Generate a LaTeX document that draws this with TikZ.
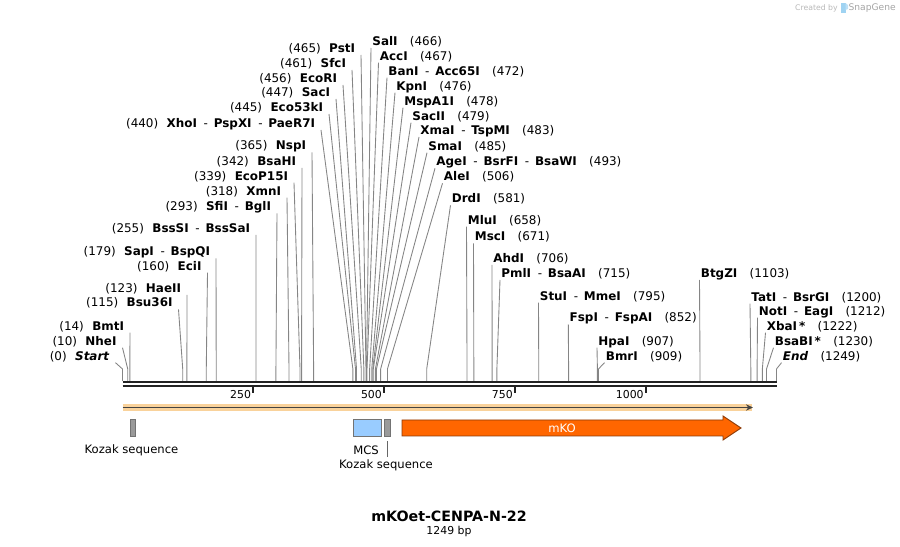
\documentclass[tikz,border=0pt]{standalone}
\usepackage{fontspec}
\setmainfont{DejaVu Sans}
\usetikzlibrary{arrows.meta}
\definecolor{cutgray}{HTML}{858585}
\definecolor{mapdark}{HTML}{222222}
\definecolor{orfpeach}{HTML}{F9D29B}
\definecolor{mkofill}{HTML}{FF6600}
\definecolor{mkodraw}{HTML}{8A3A08}
\definecolor{mcsfill}{HTML}{99CCFF}
\definecolor{kozfill}{HTML}{9A9A9A}
\definecolor{brandgray}{HTML}{B8B8B8}
\definecolor{brandblue}{HTML}{9FD3F2}
\newcommand{\lgap}{\hspace{4.8pt}}
\newcommand{\rgap}{\hspace{7pt}}
\newcommand{\dsep}{\hspace{3.8pt}-\hspace{3.3pt}}
\tikzset{
  enz/.style={font=\fontsize{6.8pt}{8pt}\selectfont, inner ysep=0.3pt, text height=5pt, text depth=1pt},
  enzl/.style={enz, anchor=south east, inner xsep=3.2pt},
  enzr/.style={enz, anchor=south west, inner xsep=0.6pt},
  cutline/.style={draw=cutgray, line width=0.5pt},
  mapline/.style={draw=mapdark, line width=1.5pt},
  tickmark/.style={draw=mapdark, line width=1.1pt},
  ticklbl/.style={font=\fontsize{6.2pt}{7pt}\selectfont, anchor=east, inner sep=1.2pt},
  featbox/.style={draw=black!55, line width=0.5pt, minimum height=0.33cm, inner sep=0pt},
  featlbl/.style={font=\fontsize{6.6pt}{8pt}\selectfont, inner sep=0pt}
}
\begin{document}
\begin{tikzpicture}[x=0.02cm, y=-0.02cm]
\useasboundingbox (0,0) rectangle (900,547);

\foreach \bp/\lx/\ly/\txt [count=\i] in {
  465/361/55/{(465)\lgap\textbf{PstI}},
  461/352/70/{(461)\lgap\textbf{SfcI}},
  456/343/85/{(456)\lgap\textbf{EcoRI}},
  447/336/99/{(447)\lgap\textbf{SacI}},
  445/329/114/{(445)\lgap\textbf{Eco53kI}},
  440/321/130/{(440)\lgap\textbf{XhoI}\dsep\textbf{PspXI}\dsep\textbf{PaeR7I}},
  365/312/152.5/{(365)\lgap\textbf{NspI}},
  342/302/168/{(342)\lgap\textbf{BsaHI}},
  339/294/182.7/{(339)\lgap\textbf{EcoP15I}},
  318/287/197.7/{(318)\lgap\textbf{XmnI}},
  293/277/213.3/{(293)\lgap\textbf{SfiI}\dsep\textbf{BglI}},
  255/256/235/{(255)\lgap\textbf{BssSI}\dsep\textbf{BssSaI}},
  179/216/258.3/{(179)\lgap\textbf{SapI}\dsep\textbf{BspQI}},
  160/207.5/272.7/{(160)\lgap\textbf{EciI}},
  123/187/295/{(123)\lgap\textbf{HaeII}},
  115/178.5/309.3/{(115)\lgap\textbf{Bsu36I}},
  14/130/332.7/{(14)\lgap\textbf{BmtI}},
  10/122.5/347.7/{(10)\lgap\textbf{NheI}},
  0/115.5/362.7/{(0)\lgap\textbf{\textit{Start}}}}
{
  \node[enzl] (el\i) at (\lx,\ly) {\txt};
  \coordinate (sl\i) at ({122.5+0.5236*\bp},369);
  \coordinate (ml\i) at ({122.5+0.5236*\bp},381);
  \draw[cutline] (el\i.south east) -- (sl\i) -- (ml\i);
}

\foreach \bp/\lx/\ly/\txt [count=\i] in {
  466/371/48/{\textbf{SalI}\rgap(466)},
  467/378.5/62.7/{\textbf{AccI}\rgap(467)},
  472/387/77.7/{\textbf{BanI}\dsep\textbf{Acc65I}\rgap(472)},
  476/395/92.7/{\textbf{KpnI}\rgap(476)},
  478/403/107.7/{\textbf{MspA1I}\rgap(478)},
  479/411/122.7/{\textbf{SacII}\rgap(479)},
  483/419/137/{\textbf{XmaI}\dsep\textbf{TspMI}\rgap(483)},
  485/427/152.7/{\textbf{SmaI}\rgap(485)},
  493/435/168.3/{\textbf{AgeI}\dsep\textbf{BsrFI}\dsep\textbf{BsaWI}\rgap(493)},
  506/442.5/183.3/{\textbf{AleI}\rgap(506)},
  581/450.5/205.3/{\textbf{DrdI}\rgap(581)},
  658/466.5/226.7/{\textbf{MluI}\rgap(658)},
  671/473.5/243.3/{\textbf{MscI}\rgap(671)},
  706/492/265/{\textbf{AhdI}\rgap(706)},
  715/500/280/{\textbf{PmlI}\dsep\textbf{BsaAI}\rgap(715)},
  795/538.5/302.7/{\textbf{StuI}\dsep\textbf{MmeI}\rgap(795)},
  852/568.3/324.3/{\textbf{FspI}\dsep\textbf{FspAI}\rgap(852)},
  907/597/347.7/{\textbf{HpaI}\rgap(907)},
  909/604.5/362.7/{\textbf{BmrI}\rgap(909)},
  1103/699.5/280/{\textbf{BtgZI}\rgap(1103)},
  1200/750/303.7/{\textbf{TatI}\dsep\textbf{BsrGI}\rgap(1200)},
  1212/757.5/317.7/{\textbf{NotI}\dsep\textbf{EagI}\rgap(1212)},
  1222/765.5/332.7/{\textbf{XbaI\,*}\rgap(1222)},
  1230/773.5/347.7/{\textbf{BsaBI\,*}\rgap(1230)},
  1249/781.5/362.7/{\textbf{\textit{End}}\rgap(1249)}}
{
  \node[enzr] (er\i) at (\lx,\ly) {\txt};
  \coordinate (sr\i) at ({122.5+0.5236*\bp},369);
  \coordinate (mr\i) at ({122.5+0.5236*\bp},381);
  \draw[cutline] (er\i.south west) -- (sr\i) -- (mr\i);
}

\draw[mapline] (122.5,382) -- (777,382);
\draw[mapline, line width=1.15pt] (122.5,386.3) -- (777,386.3);
\foreach \t in {250,500,750,1000} {
  \draw[tickmark] ({122.5+0.5236*\t},386) -- ({122.5+0.5236*\t},393);
  \node[ticklbl] (t\t) at ({122.5+0.5236*\t},394.5) {\t};
}

\draw[orfpeach, line width=4pt] (122.5,407.5) -- (752,407.5);
\draw[mapdark!85, line width=0.9pt, -{Stealth[length=4pt,width=3.6pt]}] (122.5,407.5) -- (753,407.5);

\node[featbox, fill=kozfill, minimum width=0.11cm] (koz1) at (132.7,428) {};
\node[featlbl] (koz1lbl) at (131.5,450) {Kozak sequence};
\node[featbox, fill=mcsfill, minimum width=0.56cm] (mcs) at (367.3,428) {};
\node[featlbl] (mcslbl) at (366,450) {MCS};
\node[featbox, fill=kozfill, minimum width=0.12cm] (koz2) at (387,428) {};
\node[featlbl] (koz2lbl) at (386,465.5) {Kozak sequence};
\draw[black!60, line width=0.5pt] (387,457) -- (387,441.5);

\draw[fill=mkofill, draw=mkodraw, line width=0.5pt]
  (402,420) -- (723,420) -- (723,416) -- (741,428) -- (723,440) -- (723,436) -- (402,436) -- cycle;
\node[featlbl, text=white] (mko) at (562,428) {mKO};

\node[font=\fontsize{8.1pt}{9pt}\selectfont\bfseries] (title) at (449,516) {mKOet-CENPA-N-22};
\node[font=\fontsize{6.2pt}{7pt}\selectfont] (size) at (449,531) {1249 bp};

\node[font=\fontsize{5.2pt}{6pt}\selectfont, text=brandgray!90!black, inner sep=0pt, anchor=east] (brand) at (896,8) {SnapGene};
\fill[brandblue] (841,3) rectangle (845.5,13);
\fill[brandblue!70] (845.5,3) -- (848,5) -- (848,9) -- (845.5,10) -- cycle;
\node[font=\fontsize{4.4pt}{5pt}\selectfont, text=brandgray, inner sep=0pt, anchor=east] (created) at (838,8) {Created by};
\end{tikzpicture}
\end{document}
